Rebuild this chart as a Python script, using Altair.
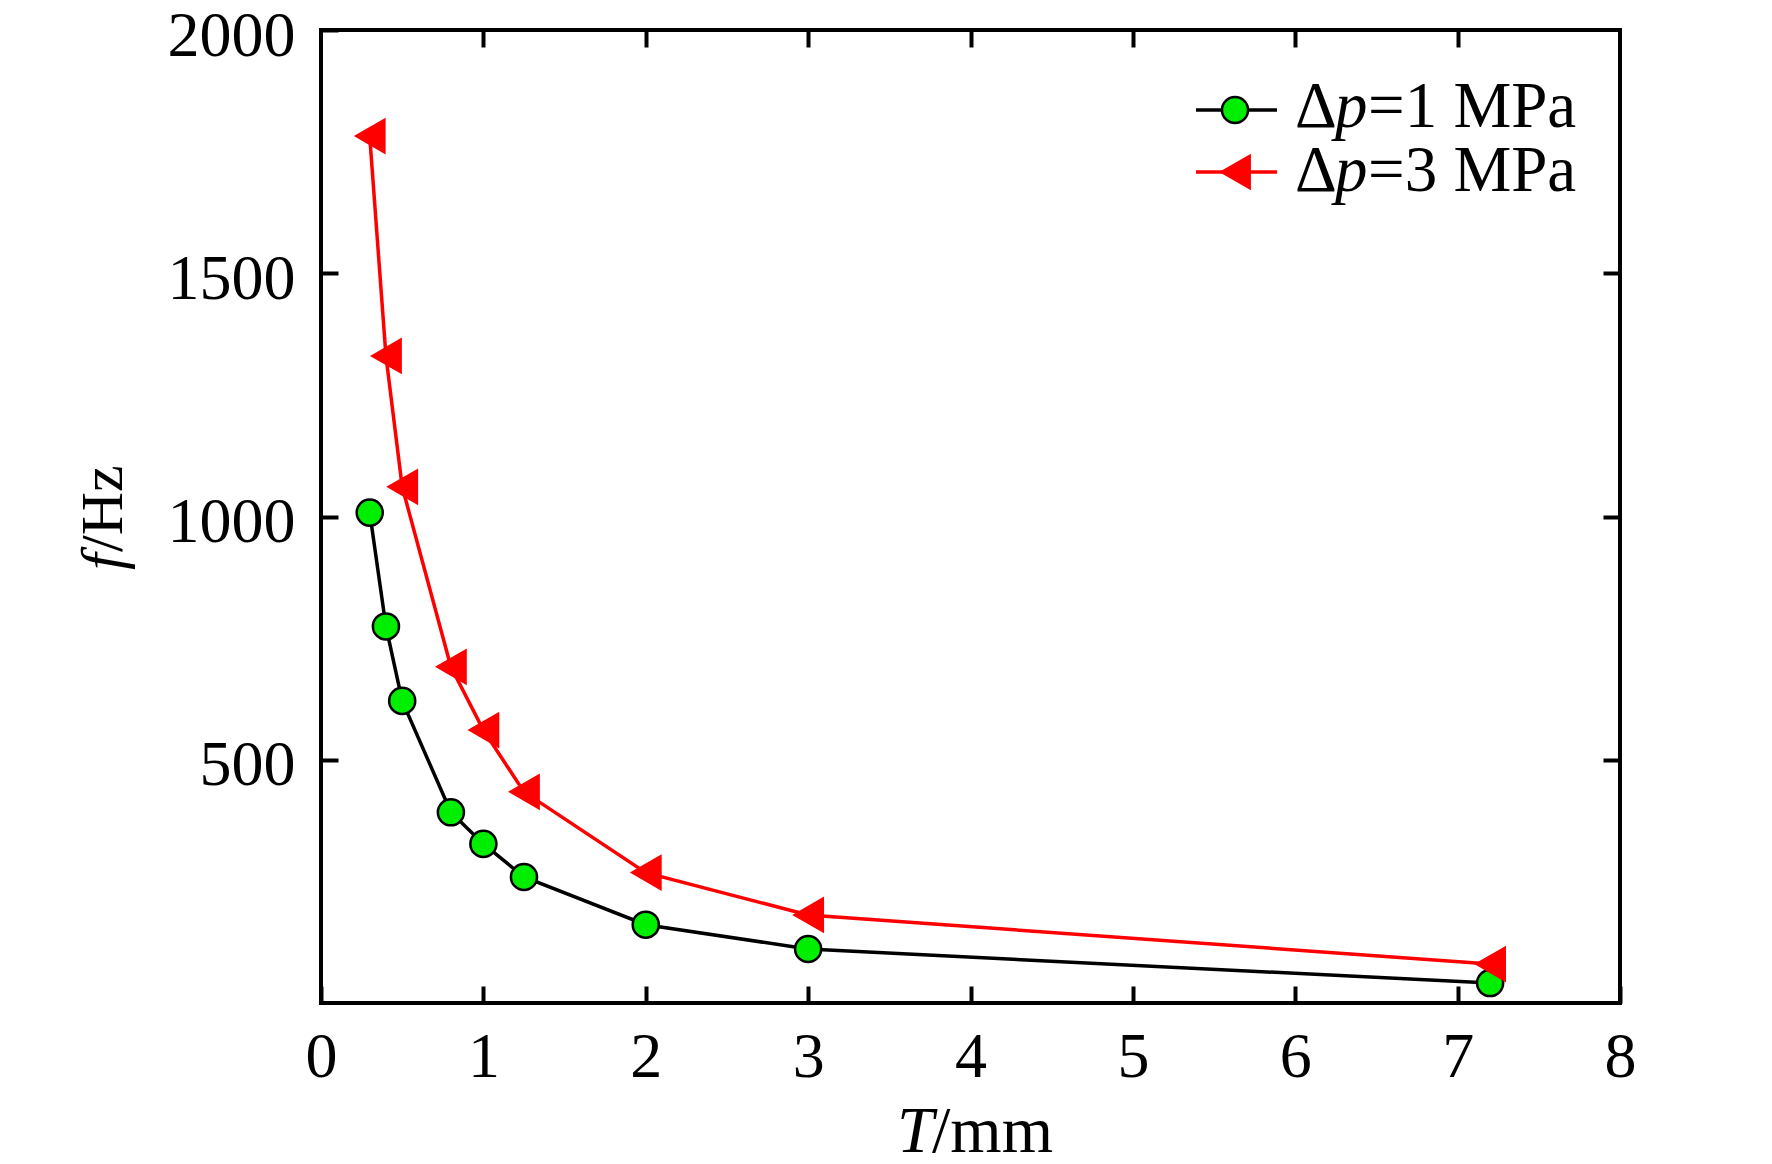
import altair as alt
import pandas as pd

# ---- data ----
T_mm = [0.3, 0.4, 0.5, 0.8, 1.0, 1.25, 2.0, 3.0, 7.2]
f_dp1 = [1008, 774, 621, 392, 327, 259, 161, 111, 41]
f_dp3 = [1782, 1330, 1061, 691, 561, 434, 268, 181, 80]
leg_rest = ["=1 MPa", "=3 MPa"]
x_ticks = [0, 1, 2, 3, 4, 5, 6, 7, 8]
x_top_ticks = [1, 2, 3, 4, 5, 6, 7]
y_ticks = [500, 1000, 1500, 2000]
y_right_ticks = [500, 1000, 1500]

W, H = 1299, 973
FONT = "Liberation Serif"
GREEN = "#00EE00"
RED = "#FF0000"

df1 = pd.DataFrame({"T": T_mm, "f": f_dp1})
df3 = pd.DataFrame({"T": T_mm, "f": f_dp3})
one = pd.DataFrame({"k": [0]})

xscale = alt.Scale(domain=[0, 8], nice=False, zero=False)
yscale = alt.Scale(domain=[0, 2000], nice=False, zero=False)

common_axis = dict(offset=-17, domain=False, grid=False, tickSize=17, tickWidth=4,
                   tickColor="black", labelFont=FONT, labelFontSize=64,
                   labelColor="black", title=None, labelFlush=False,
                   labelOverlap=False, labelBound=False, format="d")

x_bottom = alt.Axis(orient="bottom", values=x_ticks, labelPadding=22, **common_axis)
y_left = alt.Axis(orient="left", values=y_ticks, labelPadding=26, labelOffset=6, **common_axis)
x_top = alt.Axis(orient="top", values=x_top_ticks, labels=False, **common_axis)
y_right = alt.Axis(orient="right", values=y_right_ticks, labels=False, **common_axis)

line1 = alt.Chart(df1).mark_line(color="black", strokeWidth=3.5).encode(
    x=alt.X("T:Q", scale=xscale, axis=x_bottom),
    y=alt.Y("f:Q", scale=yscale, axis=y_left),
)
pts1 = alt.Chart(df1).mark_point(shape="circle", filled=True, fill=GREEN, stroke="black",
                                 strokeWidth=2.5, size=680, opacity=1).encode(
    x=alt.X("T:Q", scale=xscale, axis=None),
    y=alt.Y("f:Q", scale=yscale, axis=None),
)
line3 = alt.Chart(df3).mark_line(color=RED, strokeWidth=3.5).encode(
    x=alt.X("T:Q", scale=xscale, axis=x_top),
    y=alt.Y("f:Q", scale=yscale, axis=y_right),
)
pts3 = alt.Chart(df3).mark_point(shape="triangle-left", filled=True, fill=RED, stroke=RED,
                                 strokeWidth=0, size=1350, opacity=1).encode(
    x=alt.X("T:Q", scale=xscale, axis=None),
    y=alt.Y("f:Q", scale=yscale, axis=None),
)

# ---- manual legend (top right, inside plot) ----
LX0, LX1, LSX, LTX = 875, 956, 914, 974
rows_y = [80, 142]
base_y = [97, 161]
LFS = 65
leg_layers = []
styles = [("black", "circle", GREEN, "black", 2.5, 680),
          (RED, "triangle-left", RED, RED, 0, 1350)]
for i, (lc, shp, fc, sc, sw, sz) in enumerate(styles):
    leg_layers.append(alt.Chart(one).mark_rule(color=lc, strokeWidth=3.5).encode(
        x=alt.value(LX0), x2=alt.value(LX1), y=alt.value(rows_y[i])))
    leg_layers.append(alt.Chart(one).mark_point(shape=shp, filled=True, fill=fc, stroke=sc,
                                                strokeWidth=sw, size=sz, opacity=1).encode(
        x=alt.value(LSX), y=alt.value(rows_y[i])))
    leg_layers.append(alt.Chart(one).mark_text(text="Δ", font=FONT, fontSize=LFS, align="left",
                                               baseline="alphabetic", color="black").encode(
        x=alt.value(LTX), y=alt.value(base_y[i])))
    leg_layers.append(alt.Chart(one).mark_text(text="p", font=FONT, fontSize=LFS, fontStyle="italic",
                                               align="left", baseline="alphabetic", color="black").encode(
        x=alt.value(LTX + 40), y=alt.value(base_y[i])))
    leg_layers.append(alt.Chart(one).mark_text(text=leg_rest[i], font=FONT, fontSize=LFS, align="left",
                                               baseline="alphabetic", color="black").encode(
        x=alt.value(LTX + 73), y=alt.value(base_y[i])))

# ---- axis titles with italic variable ----
xt1 = alt.Chart(one).mark_text(text="T", font=FONT, fontSize=66, fontStyle="italic", align="left",
                               baseline="alphabetic", color="black").encode(
    x=alt.value(576), y=alt.value(1122))
xt2 = alt.Chart(one).mark_text(text="/mm", font=FONT, fontSize=66, align="left",
                               baseline="alphabetic", color="black").encode(
    x=alt.value(611), y=alt.value(1122))
yt1 = alt.Chart(one).mark_text(text="f", font=FONT, fontSize=60, fontStyle="italic", align="left",
                               baseline="alphabetic", angle=270, color="black").encode(
    x=alt.value(-199), y=alt.value(540))
yt2 = alt.Chart(one).mark_text(text="/Hz", font=FONT, fontSize=60, align="left",
                               baseline="alphabetic", angle=270, color="black").encode(
    x=alt.value(-199), y=alt.value(522))

chart = alt.layer(line1, pts1, line3, pts3, *leg_layers, xt1, xt2, yt1, yt2).resolve_axis(
    x="independent", y="independent"
).properties(
    width=W, height=H,
    autosize=alt.AutoSizeParams(type="none"),
    padding={"left": 313, "top": 22, "right": 144, "bottom": 153},
    background="white",
).configure_view(stroke="black", strokeWidth=4)

chart.save("out.html", embed_options={"renderer": "svg", "actions": False})
